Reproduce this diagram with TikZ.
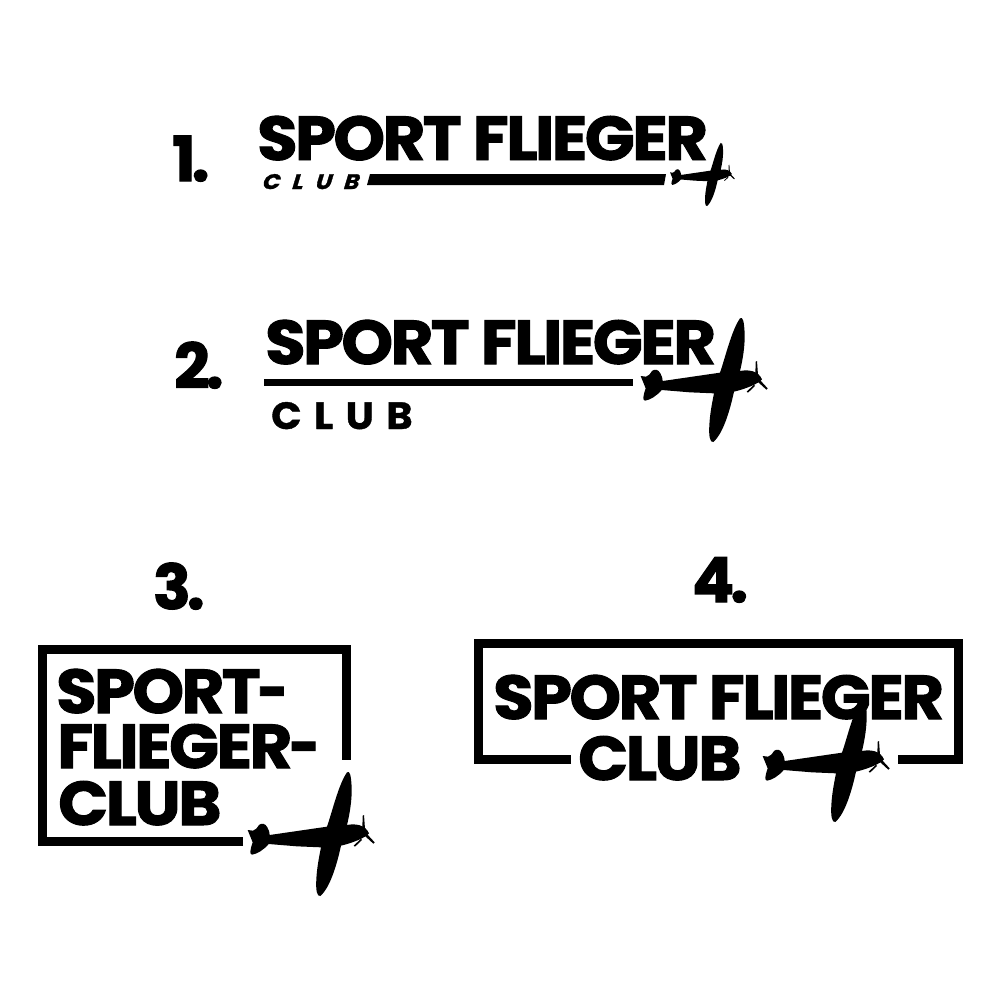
\documentclass[tikz,border=0pt]{standalone}
\usepackage{fontspec}
\setmainfont{Poppins}
\newfontfamily\logofont{Poppins}[UprightFont=* Bold,FakeBold=1.6,FakeStretch=1.06,LetterSpace=-4.2]
\newfontfamily\numfont{Poppins}[UprightFont=* Bold,FakeBold=2,LetterSpace=-6]
\newfontfamily\clubfont{Poppins}[UprightFont=* Bold,FakeBold=1,LetterSpace=33,FakeStretch=1.05]
\newfontfamily\clubslant{Poppins}[UprightFont=* Bold,FakeBold=1.5,FakeSlant=0.3,FakeStretch=1.1,LetterSpace=58]
\newcommand{\shorthy}{\kern-3pt\scalebox{.8}[1]{-}}
\tikzset{
  logotext/.style={inner sep=0pt,anchor=base west,font=\logofont\fontsize{62}{62}\selectfont},
  numtext/.style={inner sep=0pt,anchor=base west,font=\numfont\fontsize{62}{62}\selectfont},
  frameline/.style={line width=9pt,line cap=butt,line join=miter,draw=black},
  planepic/.pic={
    \fill[black] (32,198) -- (48,200) .. controls (56,198) and (60,192) .. (66,183) .. controls (74,176) and (85,178) .. (91,190) .. controls (96,198) and (98,206) .. (98,213) -- (270,188)
      .. controls (285,145) and (305,60) .. (330,25) .. controls (338,20) and (342,30) .. (344,70) .. controls (345,110) and (338,150) .. (330,183)
      .. controls (355,178) and (385,182) .. (396,208) .. controls (385,222) and (345,237) .. (312,245)
      .. controls (300,300) and (280,370) .. (250,396) .. controls (240,398) and (236,380) .. (238,345) .. controls (240,310) and (246,280) .. (252,250)
      -- (180,247) -- (95,240) .. controls (80,258) and (60,270) .. (45,272) .. controls (38,270) and (38,262) .. (47,235) -- cycle;
    \fill[black] (377,155) -- (381,153) -- (384,195) -- (376,195) -- cycle;
    \fill[black] (389,209) -- (413,235) -- (409,239) -- (384,216) -- cycle;
    \fill[black] (350,245) -- (372,224) -- (375,228) -- (354,248) -- cycle;
  }
}
\begin{document}
\begin{tikzpicture}[x=1pt,y=-1pt]
\useasboundingbox (0,0) rectangle (1000,1001);
\fill[white] (0,0) rectangle (1000,1001);
% numbers
\node[numtext] (n1) at (172,181) {1.};
\node[numtext] (n2) at (174,388) {2.};
\node[numtext] (n3) at (153,609) {3.};
\node[numtext] (n4) at (692,602) {4.};
% logo 1
\node[logotext] (t1) at (257,160) {SPORT FLIEGER};
\node[inner sep=0pt,anchor=base west,font=\clubslant\fontsize{21}{21}\selectfont] (c1) at (261,189) {CLUB};
\fill[black] (370,174) -- (666,174) -- (664,185) -- (367,185) -- cycle;
\pic[scale=0.17] at (664.6,138.7) {planepic};
% logo 2
\node[logotext] (t2) at (265,364) {SPORT FLIEGER};
\fill[black] (264,379) rectangle (633,386);
\node[inner sep=0pt,anchor=base west,font=\clubfont\fontsize{38}{38}\selectfont] (c2) at (271,429) {CLUB};
\pic[scale=1/3] at (630,310) {planepic};
% logo 3
\draw[frameline] (243,841.5) -- (42,841.5) -- (42,649.5) -- (346,649.5) -- (346,760);
\node[logotext] (t3a) at (56,713) {SPORT\shorthy};
\node[logotext] (t3b) at (57,768) {FLIEGER\shorthy};
\node[logotext] (t3c) at (58,825) {CLUB};
\pic[scale=1/3] at (237,764) {planepic};
% logo 4
\draw[frameline] (571,759) -- (478,759) -- (478,643) -- (958,643) -- (958,759) -- (898,759);
\node[logotext] (t4a) at (493,719) {SPORT FLIEGER};
\node[logotext] (t4b) at (578,780) {CLUB};
\pic[scale=1/3] at (752,690) {planepic};
\end{tikzpicture}
\end{document}
